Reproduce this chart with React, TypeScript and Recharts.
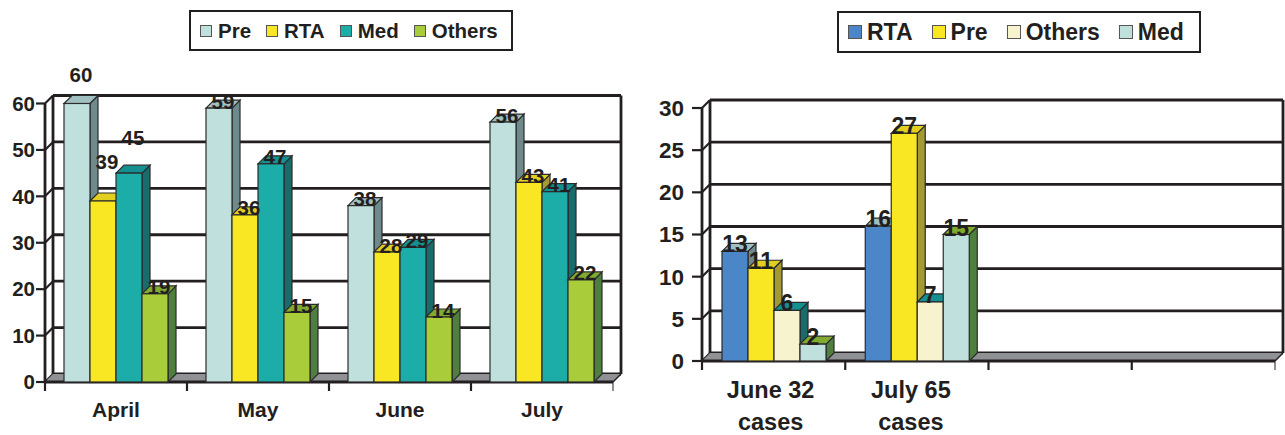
import { BarChart, Bar, XAxis, YAxis, CartesianGrid, Legend, LabelList, usePlotArea } from 'recharts'

const DARK = '#231f20'
const FONT = '"Liberation Sans", Arial, sans-serif'
const DEPTH = 8

// monthly case mix
const months = ['April', 'May', 'June', 'July']
const preCases = [60, 59, 38, 56]
const rtaCases = [39, 36, 28, 43]
const medCases = [45, 47, 29, 41]
const otherCases = [19, 15, 14, 22]

// June/July totals, the last two slots stay empty
const periods = ['June 32\ncases', 'July 65\ncases', ' ', '  ']
const rtaByPeriod = [13, 16, null, null]
const preByPeriod = [11, 27, null, null]
const othersByPeriod = [6, 7, null, null]
const medByPeriod = [2, 15, null, null]

const monthTicks = [0, 10, 20, 30, 40, 50, 60]
const periodTicks = [0, 5, 10, 15, 20, 25, 30]

const PALE = { fill: '#c0e0de', top: '#a0bfc0', side: '#6e8a8c' }
const YELLOW = { fill: '#f9e723', top: '#e2cf1f', side: '#a49a33' }
const TEAL = { fill: '#1cada9', top: '#149090', side: '#1a6b6b' }
const LIME = { fill: '#a9cc3a', top: '#80ab2f', side: '#4f7f3f' }

// the second chart keeps its side colours per slot, only the fronts change
const rtaFaces = { fill: '#4a86c8', top: PALE.top, side: PALE.side }
const creamFaces = { fill: '#f8f3cf', top: TEAL.top, side: TEAL.side }
const paleLimeFaces = { fill: PALE.fill, top: LIME.top, side: LIME.side }

const monthRows = months.map((month, i) => ({
  name: month,
  Pre: preCases[i],
  RTA: rtaCases[i],
  Med: medCases[i],
  Others: otherCases[i],
}))

const periodRows = periods.map((period, i) => ({
  name: period,
  RTA: rtaByPeriod[i],
  Pre: preByPeriod[i],
  Others: othersByPeriod[i],
  Med: medByPeriod[i],
}))

// box with front, top and side faces
function Box3D(props: any) {
  const { x, y, width, height, fill, top, side } = props
  if (!height || height <= 0) return null
  const r = x + width
  const b = y + height
  const edge = { stroke: '#2b2b2b', strokeWidth: 1.2 }
  return (
    <g>
      <polygon points={`${r},${y} ${r + DEPTH},${y - DEPTH} ${r + DEPTH},${b - DEPTH} ${r},${b}`} fill={side} {...edge} />
      <polygon points={`${x},${y} ${x + DEPTH},${y - DEPTH} ${r + DEPTH},${y - DEPTH} ${r},${y}`} fill={top} {...edge} />
      <rect x={x} y={y} width={width} height={height} fill={fill} {...edge} />
    </g>
  )
}

// back wall, grey floor and the ticks between categories
function Frame({ slots }: { slots: number }) {
  const plot = usePlotArea()
  if (!plot) return null
  const { x, y, width, height } = plot
  const b = y + height
  const r = x + width
  const ticks = Array.from({ length: slots + 1 }, (_, i) => x + (i * width) / slots)
  return (
    <g>
      <polygon
        points={`${x},${b} ${r},${b} ${r + DEPTH},${b - DEPTH} ${x + DEPTH},${b - DEPTH}`}
        fill="#8f9195"
      />
      <line x1={x + DEPTH} y1={y - DEPTH} x2={x + DEPTH} y2={b - DEPTH} stroke={DARK} strokeWidth={2.8} />
      <line x1={r + DEPTH} y1={y - DEPTH} x2={r + DEPTH} y2={b - DEPTH} stroke={DARK} strokeWidth={2.8} />
      <line x1={r} y1={b} x2={r + DEPTH} y2={b - DEPTH} stroke={DARK} strokeWidth={1.5} />
      <line x1={x} y1={b} x2={r} y2={b} stroke={DARK} strokeWidth={2.8} />
      {ticks.map((t, i) => (
        <line key={i} x1={t} y1={b} x2={t} y2={b + 9} stroke={DARK} strokeWidth={i === slots ? 1 : 2.2} />
      ))}
    </g>
  )
}

// grid sits on the back wall, with a short diagonal down to the axis
function WallLine(props: any) {
  const { x1, y1, x2, y2 } = props
  return (
    <g>
      <line x1={x1} y1={y1} x2={x1 + DEPTH} y2={y1 - DEPTH} stroke={DARK} strokeWidth={2.2} />
      <line x1={x1 + DEPTH} y1={y1 - DEPTH} x2={x2 + DEPTH} y2={y2 - DEPTH} stroke={DARK} strokeWidth={2.8} />
    </g>
  )
}

function CategoryTick(props: any) {
  const { x, y, payload, index, fontSize, lineGap, nudge } = props
  const lines = String(payload.value).trim().split('\n')
  const cx = x + (nudge ? nudge[index] || 0 : 0)
  return (
    <text x={cx} y={y} textAnchor="middle" fontFamily={FONT} fontWeight="bold" fontSize={fontSize} fill={DARK}>
      {lines.map((line: string, i: number) => (
        <tspan key={i} x={cx} dy={i === 0 ? 0 : lineGap}>
          {line}
        </tspan>
      ))}
    </text>
  )
}

function BoxedLegend(props: any) {
  const { payload, fontSize, swatch, textGap, itemGap } = props
  return (
    <div
      style={{
        boxSizing: 'border-box',
        width: '100%',
        height: '100%',
        border: `2.5px solid ${DARK}`,
        display: 'flex',
        alignItems: 'center',
        paddingLeft: 9,
        gap: itemGap,
        fontFamily: FONT,
        fontWeight: 'bold',
        fontSize,
        color: DARK,
        background: '#fff',
      }}
    >
      {(payload || []).map((item: any) => (
        <span key={item.value} style={{ display: 'flex', alignItems: 'center', gap: textGap }}>
          <span
            style={{
              boxSizing: 'border-box',
              width: swatch,
              height: swatch,
              background: item.color,
              border: '1px solid #555',
            }}
          />
          {item.value}
        </span>
      ))}
    </div>
  )
}

function valueLabel(fontSize: number, shiftX: number, lift: (index: number) => number) {
  return (props: any) => {
    const { x, y, width, value, index } = props
    if (value == null) return null
    return (
      <text
        x={x + width / 2 + shiftX}
        y={y - lift(index)}
        textAnchor="middle"
        dominantBaseline="central"
        fontFamily={FONT}
        fontWeight="bold"
        fontSize={fontSize}
        fill={DARK}
      >
        {value}
      </text>
    )
  }
}

// April's first three labels float well above their bars
const aprilLift: Record<string, number> = { Pre: 29, RTA: 39, Med: 36 }
// the two-line labels sit a little left of their slot centres
const periodLabelNudge = [-3, -6]

function monthSeries(key: string, faces: typeof PALE) {
  return (
    <Bar
      key={key}
      dataKey={key}
      name={key}
      fill={faces.fill}
      isAnimationActive={false}
      shape={(p: any) => <Box3D {...p} fill={faces.fill} top={faces.top} side={faces.side} />}
    >
      <LabelList
        dataKey={key}
        content={valueLabel(20.5, 4, (i) => (i === 0 && aprilLift[key] ? aprilLift[key] : 7))}
      />
    </Bar>
  )
}

function periodSeries(key: string, faces: typeof PALE) {
  return (
    <Bar
      key={key}
      dataKey={key}
      name={key}
      fill={faces.fill}
      isAnimationActive={false}
      shape={(p: any) => <Box3D {...p} fill={faces.fill} top={faces.top} side={faces.side} />}
    >
      <LabelList dataKey={key} content={valueLabel(23, 0, () => 7)} />
    </Bar>
  )
}

const tickStyle = { fontFamily: FONT, fontWeight: 'bold', fill: DARK }

export default function App() {
  return (
    <div style={{ position: 'absolute', left: 0, top: 0, width: 1285, height: 435, overflow: 'hidden', background: '#fff' }}>
      <div style={{ position: 'absolute', left: 0, top: 0 }}>
        <BarChart
          width={640}
          height={435}
          data={monthRows}
          margin={{ top: 103.5, right: 27, bottom: 0, left: 0 }}
          barSize={26}
          barGap={0}
        >
          <Frame slots={months.length} />
          <CartesianGrid vertical={false} horizontal={(p: any) => <WallLine key={p.key} {...p} />} />
          <XAxis
            dataKey="name"
            height={53}
            axisLine={false}
            tickLine={false}
            interval={0}
            tickMargin={0}
            tick={(p: any) => <CategoryTick {...p} y={417} fontSize={21} lineGap={32} />}
          />
          <YAxis
            domain={[0, 60]}
            ticks={monthTicks}
            width={45}
            interval={0}
            tickSize={9}
            tickMargin={1}
            axisLine={{ stroke: DARK, strokeWidth: 2.8 }}
            tickLine={{ stroke: DARK, strokeWidth: 2.2 }}
            tick={{ ...tickStyle, fontSize: 20.5 }}
          />
          <Legend
            layout="horizontal"
            verticalAlign="middle"
            itemSorter={null}
            wrapperStyle={{ left: 189, top: 10, width: 324, height: 41 }}
            content={(p: any) => <BoxedLegend {...p} fontSize={20.5} swatch={12} textGap={6} itemGap={15} />}
          />
          {monthSeries('Pre', PALE)}
          {monthSeries('RTA', YELLOW)}
          {monthSeries('Med', TEAL)}
          {monthSeries('Others', LIME)}
        </BarChart>
      </div>
      <div style={{ position: 'absolute', left: 645, top: 0 }}>
        <BarChart
          width={640}
          height={435}
          data={periodRows}
          margin={{ top: 108, right: 10, bottom: 0, left: 0 }}
          barSize={26}
          barGap={0}
        >
          <Frame slots={periods.length} />
          <CartesianGrid vertical={false} horizontal={(p: any) => <WallLine key={p.key} {...p} />} />
          <XAxis
            dataKey="name"
            height={74}
            axisLine={false}
            tickLine={false}
            interval={0}
            tick={(p: any) => <CategoryTick {...p} y={398} fontSize={23.5} lineGap={32} nudge={periodLabelNudge} />}
          />
          <YAxis
            domain={[0, 30]}
            ticks={periodTicks}
            width={57}
            interval={0}
            tickSize={10}
            tickMargin={8}
            axisLine={{ stroke: DARK, strokeWidth: 2.8 }}
            tickLine={{ stroke: DARK, strokeWidth: 2.2 }}
            tick={{ ...tickStyle, fontSize: 22.5 }}
          />
          <Legend
            layout="horizontal"
            verticalAlign="middle"
            itemSorter={null}
            wrapperStyle={{ left: 192, top: 11, width: 364, height: 42 }}
            content={(p: any) => <BoxedLegend {...p} fontSize={23} swatch={14} textGap={5} itemGap={19} />}
          />
          {periodSeries('RTA', rtaFaces)}
          {periodSeries('Pre', YELLOW)}
          {periodSeries('Others', creamFaces)}
          {periodSeries('Med', paleLimeFaces)}
        </BarChart>
      </div>
    </div>
  )
}
